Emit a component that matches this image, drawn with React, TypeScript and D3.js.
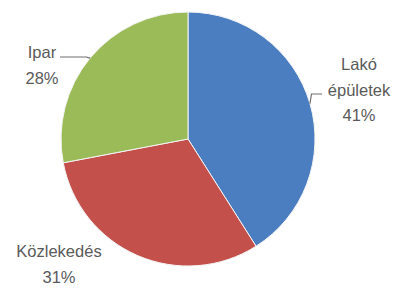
import * as d3 from "d3";

// adatok
const categories = ["Lakó épületek", "Közlekedés", "Ipar"];
const values = [41, 31, 28];
const colors = ["#4a7ec0", "#c4504c", "#9bbb59"];

// címkék sorai és helye (a címke közepe, első alapvonal)
const labelLines = [["Lakó", "épületek"], ["Közlekedés"], ["Ipar"]];
const labelPos = [
  { x: 359, y: 70 },
  { x: 59, y: 257 },
  { x: 42, y: 58 },
];

export default function App() {
  const width = 400;
  const height = 294;
  const cx = 188;
  const cy = 139;
  const radius = 127;

  const data = categories.map((name, i) => ({ name, value: values[i] }));
  const pie = d3
    .pie<{ name: string; value: number }>()
    .sort(null)
    .value((d) => d.value);
  const arcs = pie(data);
  const arc = d3
    .arc<d3.PieArcDatum<{ name: string; value: number }>>()
    .innerRadius(0)
    .outerRadius(radius);

  const total = d3.sum(values);
  const lineH = 25.5;

  // vezetővonalak: a szelet közepének peremétől a címkéig
  const edge = (i: number) => {
    const a = (arcs[i].startAngle + arcs[i].endAngle) / 2;
    return [cx + Math.sin(a) * radius, cy - Math.cos(a) * radius];
  };
  const lakoEdge = edge(0);
  const iparEdge = edge(2);
  const leaders = [
    [
      lakoEdge,
      [lakoEdge[0] + 1.5, labelPos[0].y + 24],
      [labelPos[0].x - 37, labelPos[0].y + 24],
    ],
    [
      iparEdge,
      [iparEdge[0] - 4, labelPos[2].y - 1],
      [labelPos[2].x + 18, labelPos[2].y - 1],
    ],
  ];

  return (
    <svg
      width={width}
      height={height}
      style={{ position: "absolute", left: 0, top: 0, background: "#fff" }}
    >
      <g transform={`translate(${cx},${cy})`}>
        {arcs.map((a, i) => (
          <path
            key={a.data.name}
            d={arc(a) ?? ""}
            fill={colors[i]}
            stroke="#f4f4f4"
            strokeWidth={1}
          />
        ))}
      </g>
      {leaders.map((pts, i) => (
        <polyline
          key={i}
          points={pts.map((p) => p.join(",")).join(" ")}
          fill="none"
          stroke="#6f6f6f"
          strokeWidth={1.2}
        />
      ))}
      {labelLines.map((lines, i) => (
        <text
          key={i}
          x={labelPos[i].x}
          y={labelPos[i].y}
          textAnchor="middle"
          fontFamily="'Liberation Sans', Arial, sans-serif"
          fontSize={16.5}
          fill="#5a5a5a"
        >
          {lines.map((l, j) => (
            <tspan key={j} x={labelPos[i].x} dy={j === 0 ? 0 : lineH}>
              {l}
            </tspan>
          ))}
          <tspan x={labelPos[i].x} dy={lineH}>
            {d3.format(".0%")(values[i] / total)}
          </tspan>
        </text>
      ))}
    </svg>
  );
}
